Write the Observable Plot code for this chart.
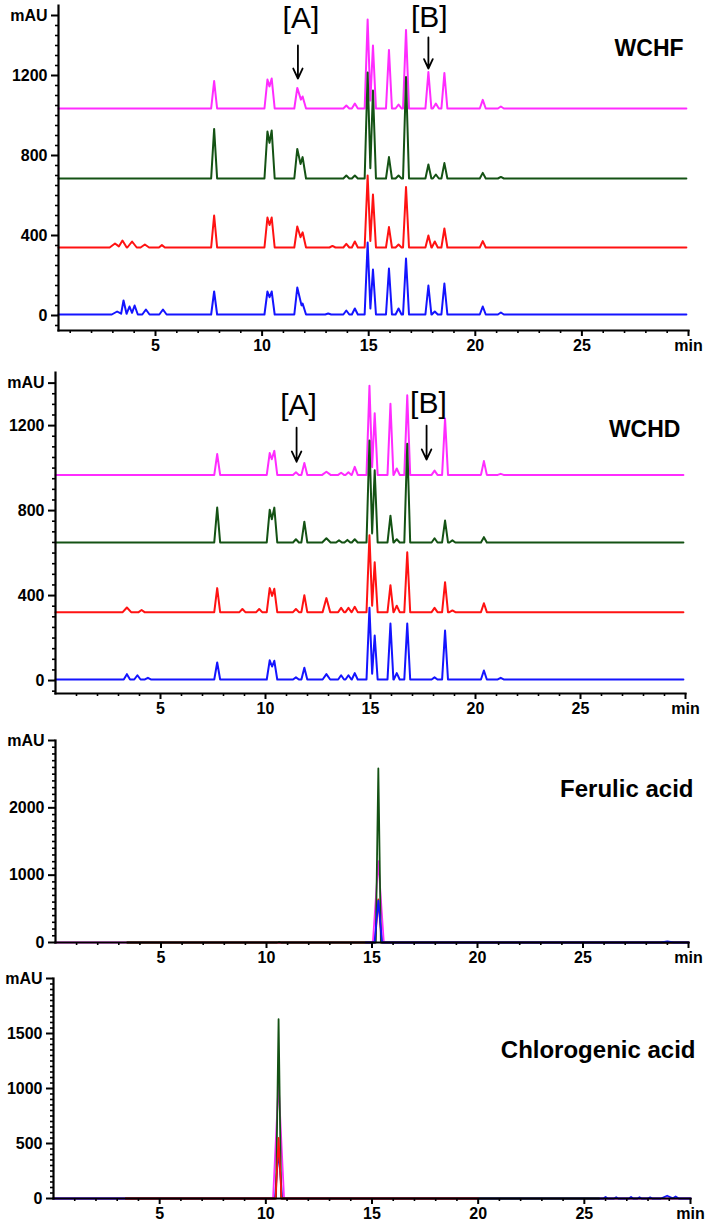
<!DOCTYPE html>
<html>
<head>
<meta charset="utf-8">
<script src="https://cdn.jsdelivr.net/npm/d3@7"></script>
<script src="https://cdn.jsdelivr.net/npm/@observablehq/plot@0.6"></script>
<style>
  html, body { margin: 0; padding: 0; background: #fff; }
  #wrap { position: relative; width: 709px; height: 1224px; overflow: hidden; }
  .pane { position: absolute; left: 0; }
  svg { overflow: visible; }
</style>
</head>
<body>
<div id="wrap">
  <div class="pane" id="p1" style="top:0px"></div>
  <div class="pane" id="p2" style="top:360px"></div>
  <div class="pane" id="p3" style="top:725px"></div>
  <div class="pane" id="p4" style="top:965px"></div>
</div>
<script>
// ---------------- DATA ----------------
// Trace order: magenta, dark green, red, blue. Peaks: [retention time (min), height above baseline (mAU), half base width L, R]
const traceNames = ["magenta", "green", "red", "blue"];

// Panel 1: WCHF
const wchfBaselines = [1035, 685, 340, 5];
const wchfMagenta = [[7.75,137],[10.25,145,0.14,0.4],[10.45,150,0.4,0.14],[11.65,103,0.14,0.3],[11.9,60,0.3,0.16],[13.95,15],[14.35,25],[14.95,445],[15.2,315],[15.95,293],[16.4,20],[16.75,393],[17.8,182],[18.15,25],[18.55,177],[20.35,43],[21.2,10]];
const wchfGreen   = [[7.75,248],[10.25,235,0.14,0.4],[10.45,240,0.4,0.14],[11.65,148,0.14,0.3],[11.9,107,0.3,0.16],[13.95,15],[14.35,15],[14.95,530],[15.2,440],[15.95,107],[16.4,15],[16.75,507],[17.8,70],[18.15,20],[18.55,77],[20.35,28],[21.2,8]];
const wchfRed     = [[3.1,20,0.25],[3.45,35,0.2],[3.9,30,0.22],[4.5,15,0.2],[5.3,12],[7.75,160],[10.25,150,0.14,0.4],[10.45,150,0.4,0.14],[11.65,105,0.14,0.3],[11.9,76,0.3,0.16],[13.3,8],[13.95,18],[14.35,30],[14.95,360],[15.2,265],[15.95,102],[16.4,15],[16.75,302],[17.8,60],[18.1,30],[18.55,95],[20.35,32]];
const wchfBlue    = [[3.2,15,0.25],[3.5,70,0.12,0.15],[3.78,40,0.15],[4.02,45,0.15],[4.55,25,0.17],[5.35,25,0.17],[7.75,115],[10.25,115,0.14,0.4],[10.45,115,0.4,0.14],[11.65,135,0.14,0.3],[11.9,55,0.3,0.16],[13.1,5],[13.95,20],[14.35,30],[14.95,360],[15.2,225],[15.95,230],[16.4,30],[16.75,280],[17.8,145],[18.1,15],[18.55,155],[20.35,40],[21.2,10]];

// Panel 2: WCHD
const wchdBaselines = [968, 650, 322, 5];
const wchdMagenta = [[7.7,98],[10.2,103,0.14,0.35],[10.42,113,0.35,0.14],[11.45,12],[11.85,56],[12.9,15,0.2],[13.6,10],[13.95,12],[14.25,38],[14.95,420],[15.2,290],[15.95,335],[16.25,30],[16.75,375],[18.05,20],[18.55,265],[20.4,65],[21.2,5]];
const wchdGreen   = [[7.7,164],[10.2,154,0.14,0.35],[10.42,164,0.35,0.14],[11.45,15],[11.85,98],[12.9,20,0.2],[13.5,10],[13.9,12],[14.25,15],[14.95,480],[15.2,340],[15.95,126],[16.25,15],[16.75,465],[18.05,20],[18.55,103],[18.9,10],[20.4,25]];
const wchdRed     = [[3.4,22,0.2],[4.1,10],[7.7,113],[8.9,15],[9.7,15],[10.2,113,0.14,0.35],[10.42,110,0.35,0.14],[11.45,15],[11.85,80],[12.9,66,0.18],[13.6,20],[13.95,20],[14.25,25],[14.95,362],[15.2,235],[15.95,127],[16.25,30],[16.75,282],[18.05,20],[18.55,141],[18.9,8],[20.4,42]];
const wchdBlue    = [[3.4,25,0.15],[3.9,20,0.15],[4.4,8],[7.7,80],[10.2,90,0.14,0.35],[10.42,88,0.35,0.14],[11.45,10],[11.85,55],[12.9,25,0.18],[13.6,20],[13.95,20],[14.25,30],[14.95,338],[15.2,207],[15.95,263],[16.25,30],[16.75,263],[18.05,10],[18.55,230],[20.4,42],[21.2,8]];

// Panel 3: Ferulic acid standard
const faMagenta = [[15.3,1210,0.26]];
const faRed     = [[15.3,640,0.16]];
const faGreen   = [[10.6,8,0.1],[15.3,2585,0.12]];
const faBlue    = [[15.3,620,0.18],[29.0,15,0.3]];
const faStarts  = [0, 3.4, 3.4, 14.7];   // magenta, red, green, blue
const faEnds    = [30, 30, 30, 30];

// Panel 4: Chlorogenic acid standard
const caMagenta = [[10.6,1050,0.26]];
const caBlue    = [[10.6,440,0.17],[26.0,15,0.1],[26.5,12,0.1],[27.2,15,0.1],[27.6,12,0.1],[28.1,10,0.1],[28.9,25,0.3],[29.3,18,0.15]];
const caGreen   = [[10.6,1630,0.12]];
const caRed     = [[10.6,550,0.14]];
const caStarts  = [0, 0, 3.4, 3.4];      // magenta, blue, green, red
const caEnds    = [30, 30, 25.7, 20];

// Axis ticks
const xTicks = [5, 10, 15, 20, 25, 30];
const yTicks1 = [0, 400, 800, 1200, 1500];
const yTicks2 = [0, 400, 800, 1200, 1400];
const yTicks3 = [0, 1000, 2000, 3000];
const yTicks4 = [0, 500, 1000, 1500, 2000];

// Annotations
const annot1 = [{text: "[A]", t: 11.82, v: 1485}, {text: "[B]", t: 17.84, v: 1490}];
const arrows1 = [{t: 11.68, from: 1350, to: 1185}, {t: 17.8, from: 1390, to: 1235}];
const annot2 = [{text: "[A]", t: 11.57, v: 1294}, {text: "[B]", t: 17.76, v: 1303}];
const arrows2 = [{t: 11.48, from: 1190, to: 1030}, {t: 17.67, from: 1200, to: 1040}];
const titles = [
  {text: "WCHF", t: 29.77, v: 1332},
  {text: "WCHD", t: 29.76, v: 1183},
  {text: "Ferulic acid", t: 30, v: 2280},
  {text: "Chlorogenic acid", t: 30, v: 1350}
];

// ---------------- DRAWING ----------------
const COLORS = {magenta: "#ff2cff", green: "#145214", red: "#ff1212", blue: "#1414ff"};
const FONT = "'Liberation Sans', Arial, Helvetica, sans-serif";
const W = 0.14;

// Turn a peak table into the vertices of a chromatogram polyline (narrow triangular peaks)
function buildTrace(peaks, base, t0, t1) {
  const ps = peaks.map(([t, h, wl = W, wr = wl]) => ({t, h, wl, wr})).sort((a, b) => a.t - b.t);
  const out = [{t: t0, v: base}];
  let joined = false;
  for (let i = 0; i < ps.length; i++) {
    const p = ps[i];
    if (!joined) out.push({t: Math.max(t0, p.t - p.wl), v: base});
    out.push({t: p.t, v: base + p.h});
    const q = ps[i + 1];
    if (q && p.t + p.wr > q.t - q.wl) {
      let x = (p.h - q.h + p.h * p.t / p.wr + q.h * q.t / q.wl) / (p.h / p.wr + q.h / q.wl);
      x = Math.min(Math.max(x, p.t), q.t);
      const y = Math.max(0, p.h * (1 - (x - p.t) / p.wr), q.h * (1 - (q.t - x) / q.wl));
      out.push({t: x, v: base + y});
      joined = true;
    } else {
      out.push({t: Math.min(t1, p.t + p.wr), v: base});
      joined = false;
    }
  }
  out.push({t: t1, v: base});
  return out.filter(d => d.t >= t0 && d.t <= t1);
}

function panel(cfg) {
  const yTop = cfg.yTicks[cfg.yTicks.length - 1];
  const yMinor = d3.range(cfg.yMinorStart, yTop + 1, cfg.yMinorStep).filter(d => !cfg.yTicks.includes(d));
  const xMinor = d3.range(1, 30, 1).filter(d => d % 5 !== 0 && d >= cfg.xDomain[0]);
  return Plot.plot({
    width: 709, height: cfg.height,
    marginTop: cfg.mt, marginBottom: cfg.mb, marginLeft: cfg.ml, marginRight: cfg.mr,
    x: {domain: cfg.xDomain},
    y: {domain: cfg.yDomain},
    style: {fontFamily: FONT, fontSize: "16px", fontWeight: "bold", color: "#000", background: "transparent", overflow: "visible"},
    marks: [
      ...cfg.traces.map(tr => Plot.line(tr.pts, {x: "t", y: "v", stroke: tr.color, strokeWidth: cfg.lw, strokeLinejoin: "round"})),
      Plot.axisY({ticks: yMinor, tickSize: 3, tickFormat: () => "", label: null, strokeWidth: 1.6}),
      Plot.axisY({ticks: cfg.yTicks, tickSize: 7, tickPadding: 4, tickFormat: d => d === yTop ? "mAU" : String(d), label: null, strokeWidth: 2, fontWeight: "bold", fontSize: 16}),
      Plot.axisX({ticks: xMinor, tickSize: 3, tickFormat: () => "", label: null, strokeWidth: 1.6}),
      Plot.axisX({ticks: xTicks, tickSize: 6, tickPadding: 3, tickFormat: d => d === 30 ? "min" : String(d), label: null, strokeWidth: 2, fontWeight: "bold", fontSize: 16}),
      Plot.frame({anchor: "left", strokeWidth: 2.2}),
      Plot.frame({anchor: "bottom", strokeWidth: 2.2}),
      ...(cfg.extra || [])
    ]
  });
}

function annotMarks(labels, arrows, title, titleSize) {
  const m = [];
  if (labels) m.push(Plot.text(labels, {x: "t", y: "v", text: "text", fontSize: 30, fontWeight: "normal", fill: "#000"}));
  if (arrows) m.push(Plot.arrow(arrows, {x1: "t", y1: "from", x2: "t", y2: "to", stroke: "#000", strokeWidth: 1.8, headLength: 11, headAngle: 50}));
  m.push(Plot.text([title], {x: "t", y: "v", text: "text", textAnchor: "end", fontSize: titleSize, fontWeight: "bold", fill: "#000", dx: title.t === 30 ? 5 : 0}));
  return m;
}

const p1Peaks = [wchfMagenta, wchfGreen, wchfRed, wchfBlue];
const p1 = panel({
  height: 360, mt: 5, mb: 30, ml: 58, mr: 21,
  xDomain: [0.45, 30], yDomain: [-75, 1550], lw: 2,
  yTicks: yTicks1, yMinorStart: -50, yMinorStep: 50,
  traces: traceNames.map((n, i) => ({color: COLORS[n], pts: buildTrace(p1Peaks[i], wchfBaselines[i], 0.45, 29.9)})),
  extra: annotMarks(annot1, arrows1, titles[0], 23)
});
document.getElementById("p1").appendChild(p1);

const p2Peaks = [wchdMagenta, wchdGreen, wchdRed, wchdBlue];
const p2 = panel({
  height: 365, mt: 12, mb: 32, ml: 55, mr: 24,
  xDomain: [0, 30], yDomain: [-61, 1450], lw: 2,
  yTicks: yTicks2, yMinorStart: -50, yMinorStep: 50,
  traces: traceNames.map((n, i) => ({color: COLORS[n], pts: buildTrace(p2Peaks[i], wchdBaselines[i], 0, 29.9)})),
  extra: annotMarks(annot2, arrows2, titles[1], 23)
});
document.getElementById("p2").appendChild(p2);

const p3Sets = [[faMagenta, "magenta"], [faRed, "red"], [faGreen, "green"], [faBlue, "blue"]];
const p3 = panel({
  height: 240, mt: 15, mb: 23, ml: 55, mr: 21,
  xDomain: [0, 30], yDomain: [0, 3000], lw: 1.8,
  yTicks: yTicks3, yMinorStart: 100, yMinorStep: 100,
  traces: p3Sets.map(([pk, n], i) => ({color: COLORS[n], pts: buildTrace(pk, 0, faStarts[i], faEnds[i])})),
  extra: annotMarks(null, null, titles[2], 24)
});
document.getElementById("p3").appendChild(p3);

const p4Sets = [[caMagenta, "magenta"], [caBlue, "blue"], [caGreen, "green"], [caRed, "red"]];
const p4 = panel({
  height: 259, mt: 13, mb: 26, ml: 53, mr: 19,
  xDomain: [0, 30], yDomain: [0, 2000], lw: 1.8,
  yTicks: yTicks4, yMinorStart: 50, yMinorStep: 50,
  traces: p4Sets.map(([pk, n], i) => ({color: COLORS[n], pts: buildTrace(pk, 0, caStarts[i], caEnds[i])})),
  extra: annotMarks(null, null, titles[3], 24)
});
document.getElementById("p4").appendChild(p4);
</script>
</body>
</html>
